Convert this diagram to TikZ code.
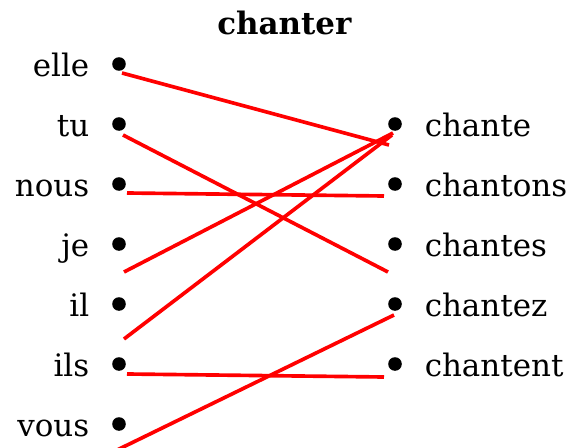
\documentclass[tikz,border=0pt]{standalone}
\usepackage{fontspec}
\setmainfont{DejaVu Serif}
\usepackage{tikz}
\usetikzlibrary{positioning}
\tikzstyle{dot}=[circle, fill=black, inner sep=0pt, minimum size=0.34cm]
\tikzstyle{word}=[font=\fontsize{22}{26}\selectfont, inner sep=0pt, text height=0.62cm, text depth=0pt]
\tikzstyle{link}=[red, line width=2.6pt]

\begin{document}
\begin{tikzpicture}[node distance=1.5cm, on grid, label distance=0.56cm]
    \useasboundingbox (0,0) rectangle (14.65,-11.2);
    \node [word, font=\fontsize{22}{26}\selectfont\bfseries, anchor=base](title) at (7.11,-0.85) {chanter};

    % pronouns
    \node [dot, label={[word]left:elle}](elle) at (2.975,-1.6) {};
    \node [dot, below=of elle, label={[word]left:tu}](tu) {};
    \node [dot, below=of tu, label={[word]left:nous}](nous) {};
    \node [dot, below=of nous, label={[word]left:je}](je) {};
    \node [dot, below=of je, label={[word]left:il}](il) {};
    \node [dot, below=of il, label={[word]left:ils}](ils) {};
    \node [dot, below=of ils, label={[word]left:vous}](vous) {};

    % verb forms
    \node [dot, right=6.9cm of tu, label={[word]right:chante}](chante) {};
    \node [dot, below=of chante, label={[word]right:chantons}](chantons) {};
    \node [dot, below=of chantons, label={[word]right:chantes}](chantes) {};
    \node [dot, below=of chantes, label={[word]right:chantez}](chantez) {};
    \node [dot, below=of chantez, label={[word]right:chantent}](chantent) {};

    \path ([shift={(0.075,-0.225)}]elle.center) edge[link] ([shift={(-0.15,-0.525)}]chante.center);
    \path ([shift={(0.1,-0.275)}]tu.center) edge[link] ([shift={(-0.175,-0.7)}]chantes.center);
    \path ([shift={(0.2,-0.225)}]nous.center) edge[link] ([shift={(-0.275,-0.3)}]chantons.center);
    \path ([shift={(0.125,-0.7)}]je.center) edge[link] ([shift={(-0.05,-0.225)}]chante.center);
    \path ([shift={(0.125,-0.875)}]il.center) edge[link] ([shift={(-0.075,-0.275)}]chante.center);
    \path ([shift={(0.2,-0.25)}]ils.center) edge[link] ([shift={(-0.275,-0.325)}]chantent.center);
    \path ([shift={(-0.15,-0.7)}]vous.center) edge[link] ([shift={(-0.025,-0.275)}]chantez.center);
\end{tikzpicture}
\end{document}
